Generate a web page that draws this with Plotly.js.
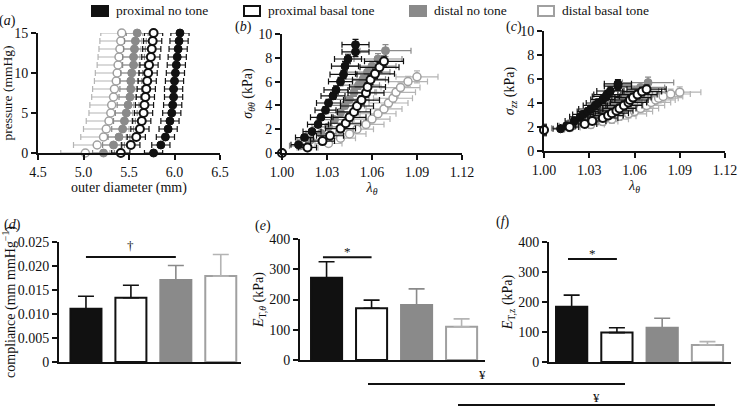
<!DOCTYPE html>
<html><head><meta charset="utf-8">
<script src="https://cdn.plot.ly/plotly-3.0.1.min.js"></script>
<style>body{margin:0;background:#fff}#chart{width:738px;height:407px}</style>
</head><body><div id="chart"></div>
<script>
// ---------- data ----------
const groups = ['proximal no tone', 'proximal basal tone', 'distal no tone', 'distal basal tone'];

// (a) pressure vs outer diameter
const pressure = [0,1,2,3,4,5,6,7,8,9,10,11,12,13,14,15];
const diamProxNo     = [5.77,5.85,5.90,5.93,5.95,5.97,5.98,5.99,5.99,6.00,6.01,6.02,6.03,6.04,6.05,6.06];
const diamProxBasal  = [5.41,5.52,5.58,5.62,5.64,5.66,5.67,5.68,5.69,5.70,5.71,5.72,5.74,5.75,5.76,5.77];
const diamDistNo     = [5.22,5.33,5.39,5.43,5.45,5.47,5.49,5.51,5.52,5.52,5.53,5.55,5.55,5.56,5.57,5.59];
const diamDistBasal  = [5.02,5.15,5.22,5.25,5.28,5.30,5.31,5.33,5.34,5.36,5.37,5.38,5.39,5.40,5.41,5.42];
const diamProxNoErr    = [0.10,0.10,0.10,0.10,0.10,0.10,0.10,0.10,0.10,0.10,0.10,0.10,0.10,0.10,0.10,0.10];
const diamProxBasalErr = [0.10,0.10,0.10,0.10,0.10,0.10,0.10,0.10,0.10,0.10,0.10,0.10,0.10,0.10,0.10,0.10];
const diamDistNoErr    = [0.12,0.12,0.12,0.12,0.12,0.12,0.12,0.12,0.12,0.12,0.12,0.12,0.12,0.12,0.12,0.12];
const diamDistBasalErr = [0.27,0.26,0.25,0.25,0.25,0.24,0.24,0.24,0.24,0.24,0.24,0.23,0.23,0.23,0.23,0.23];

// (b) circumferential stretch vs circumferential stress
const lamProxNo    = [1.000,1.011,1.015,1.020,1.024,1.026,1.029,1.031,1.034,1.036,1.039,1.041,1.042,1.044,1.049,1.049];
const lamProxBasal = [1.000,1.017,1.027,1.032,1.039,1.0425,1.045,1.048,1.050,1.053,1.056,1.057,1.059,1.062,1.065,1.068];
const lamDistNo    = [1.000,1.012,1.019,1.026,1.031,1.035,1.039,1.042,1.045,1.048,1.051,1.054,1.057,1.060,1.064,1.069];
const lamDistBasal = [1.000,1.017,1.031,1.039,1.045,1.050,1.056,1.060,1.064,1.068,1.071,1.074,1.076,1.079,1.084,1.090];
const lamProxNoErr    = [0.002,0.005,0.006,0.006,0.007,0.007,0.007,0.008,0.008,0.008,0.008,0.009,0.009,0.009,0.009,0.009];
const lamProxBasalErr = [0.002,0.006,0.008,0.009,0.010,0.010,0.011,0.011,0.011,0.012,0.012,0.012,0.012,0.013,0.013,0.013];
const lamDistNoErr    = [0.002,0.007,0.009,0.010,0.011,0.012,0.012,0.013,0.013,0.014,0.014,0.015,0.015,0.016,0.016,0.017];
const lamDistBasalErr = [0.002,0.007,0.009,0.010,0.011,0.011,0.012,0.012,0.012,0.012,0.013,0.013,0.013,0.013,0.013,0.014];
const sttProxNo    = [0,0.7,1.3,1.8,2.4,3.0,3.6,4.2,4.8,5.3,6.0,6.6,7.3,7.9,8.5,9.1];
const sttProxBasal = [0,0.47,1.0,1.45,2.05,2.5,3.0,3.45,3.95,4.45,5.05,5.55,6.15,6.65,7.2,7.7];
const sttDistNo    = [0,0.6,1.1,1.65,2.2,2.8,3.4,4.0,4.5,5.1,5.7,6.2,6.8,7.3,7.9,8.6];
const sttDistBasal = [0,0.45,0.8,1.25,1.6,2.0,2.4,2.85,3.3,3.7,4.2,4.6,5.1,5.5,6.0,6.4];
const sttProxNoErr    = [0.1,0.15,0.2,0.2,0.25,0.25,0.3,0.3,0.3,0.35,0.35,0.35,0.4,0.4,0.4,0.45];
const sttProxBasalErr = [0.1,0.15,0.2,0.2,0.25,0.25,0.3,0.3,0.3,0.35,0.35,0.35,0.4,0.4,0.4,0.45];
const sttDistNoErr    = [0.1,0.15,0.2,0.2,0.25,0.25,0.3,0.3,0.3,0.35,0.35,0.35,0.4,0.4,0.45,0.5];
const sttDistBasalErr = [0.1,0.15,0.2,0.2,0.25,0.25,0.3,0.3,0.3,0.35,0.35,0.35,0.4,0.4,0.45,0.5];

// (c) circumferential stretch vs axial stress
const szzProxNo    = [1.75,1.85,2.1,2.5,2.85,3.05,3.3,3.5,3.8,4.0,4.3,4.55,4.7,5.0,5.4,5.6];
const szzProxBasal = [1.75,2.0,2.25,2.5,2.75,2.95,3.15,3.35,3.55,3.8,4.05,4.25,4.45,4.7,4.95,5.15];
const szzDistNo    = [1.75,1.9,2.1,2.4,2.65,2.9,3.15,3.4,3.65,3.9,4.15,4.45,4.7,5.0,5.3,5.7];
const szzDistBasal = [1.75,1.95,2.2,2.45,2.65,2.9,3.1,3.3,3.55,3.8,4.05,4.25,4.4,4.55,4.75,4.9];
const szzProxNoErr    = [0.4,0.2,0.25,0.25,0.3,0.3,0.3,0.3,0.35,0.35,0.35,0.35,0.35,0.35,0.35,0.35];
const szzProxBasalErr = [0.4,0.2,0.25,0.25,0.3,0.3,0.3,0.3,0.35,0.35,0.35,0.35,0.35,0.35,0.35,0.35];
const szzDistNoErr    = [0.5,0.3,0.3,0.3,0.35,0.35,0.35,0.35,0.35,0.4,0.4,0.4,0.4,0.4,0.4,0.45];
const szzDistBasalErr = [0.5,0.3,0.3,0.3,0.35,0.35,0.35,0.35,0.35,0.4,0.4,0.4,0.4,0.4,0.4,0.45];

// (d)-(f) bar charts
const compliance    = [0.0111,0.0134,0.0171,0.0179];
const complianceErr = [0.0026,0.0026,0.0030,0.0045];
const etTheta       = [272,171,182,110];
const etThetaErr    = [53,27,53,26];
const etZ           = [184,98,114,57];
const etZErr        = [39,16,32,11];

// ---------- styling ----------
const W = 738, H = 407;
const px = x => x / W, py = y => 1 - y / H;
const FONT = '"Liberation Serif", "DejaVu Serif", serif';
const INK = '#111';
const sty = [
  {fill: INK, line: INK, err: INK, lw: 1},
  {fill: '#fff', line: INK, err: INK, lw: 2},
  {fill: '#8a8a8a', line: '#8a8a8a', err: '#8a8a8a', lw: 1},
  {fill: '#fff', line: '#a0a0a0', err: '#b4b4b4', lw: 1.5}
];

const traces = [];
const order = [3, 2, 0, 1];

function scat(i, x, y, xe, ye, xa, ya) {
  const s = sty[i];
  const t = {
    type: 'scatter', mode: 'markers', x: x, y: y, xaxis: xa, yaxis: ya, name: groups[i],
    cliponaxis: false, showlegend: false,
    marker: {size: 8, color: s.fill, line: {color: s.line, width: s.lw}},
    error_x: {type: 'data', array: xe, color: s.err, thickness: 1.2, width: 3}
  };
  if (ye) t.error_y = {type: 'data', array: ye, color: s.err, thickness: 1.2, width: 3};
  traces.push(t);
}

const diam = [diamProxNo, diamProxBasal, diamDistNo, diamDistBasal];
const diamErr = [diamProxNoErr, diamProxBasalErr, diamDistNoErr, diamDistBasalErr];
const lam = [lamProxNo, lamProxBasal, lamDistNo, lamDistBasal];
const lamErr = [lamProxNoErr, lamProxBasalErr, lamDistNoErr, lamDistBasalErr];
const stt = [sttProxNo, sttProxBasal, sttDistNo, sttDistBasal];
const sttErr = [sttProxNoErr, sttProxBasalErr, sttDistNoErr, sttDistBasalErr];
const szz = [szzProxNo, szzProxBasal, szzDistNo, szzDistBasal];
const szzErr = [szzProxNoErr, szzProxBasalErr, szzDistNoErr, szzDistBasalErr];

order.forEach(i => scat(i, diam[i], pressure, diamErr[i], null, 'x', 'y'));
order.forEach(i => scat(i, lam[i], stt[i], lamErr[i], sttErr[i], 'x2', 'y2'));
order.forEach(i => scat(i, lam[i], szz[i], lamErr[i], szzErr[i], 'x3', 'y3'));

function bars(vals, errs, xa, ya) {
  groups.forEach((g, i) => {
    const s = sty[i];
    traces.push({
      type: 'bar', x: [g], y: [vals[i]], xaxis: xa, yaxis: ya, name: g, showlegend: false,
      width: 0.69,
      marker: {color: s.fill, line: {color: s.line, width: 2}},
      error_y: {type: 'data', symmetric: false, array: [errs[i]], arrayminus: [0],
                color: s.err, thickness: 1.6, width: 8}
    });
  });
}
bars(compliance, complianceErr, 'x4', 'y4');
bars(etTheta, etThetaErr, 'x5', 'y5');
bars(etZ, etZErr, 'x6', 'y6');

const tickfont = {family: FONT, size: 14, color: INK};
const titlefont = {family: FONT, size: 14, color: INK};
function ax(domain, extra) {
  return Object.assign({
    domain: domain, showline: true, linewidth: 2, linecolor: INK, ticks: 'outside',
    ticklen: 5, tickwidth: 2, tickcolor: INK, showgrid: false, zeroline: false,
    tickfont: tickfont, fixedrange: true
  }, extra);
}
function cat(domain, range, anchor) {
  return ax(domain, {type: 'category', categoryarray: groups, categoryorder: 'array',
    range: range, showticklabels: false, ticks: '', anchor: anchor});
}

const layout = {
  width: W, height: H, margin: {l: 0, r: 0, t: 0, b: 0},
  paper_bgcolor: '#fff', plot_bgcolor: 'rgba(0,0,0,0)',
  font: {family: FONT, color: INK}, showlegend: false, barmode: 'overlay',
  xaxis: ax([px(38), px(220)], {range: [4.5, 6.5], tickvals: [4.5, 5.0, 5.5, 6.0, 6.5], tickformat: '.1f',
    title: {text: 'outer diameter (mm)', font: titlefont, standoff: 2}, anchor: 'y'}),
  yaxis: ax([py(153), py(33)], {range: [0, 15], tickvals: [0, 5, 10, 15],
    title: {text: 'pressure (mmHg)', font: {family: FONT, size: 13.5, color: INK}, standoff: 2}, anchor: 'x'}),
  xaxis2: ax([px(282), px(462)], {range: [1.0, 1.12], tickvals: [1.00, 1.03, 1.06, 1.09, 1.12], tickformat: '.2f',
    title: {text: '<i>λ</i><sub><i>θ</i></sub>', font: titlefont, standoff: 2}, anchor: 'y2'}),
  yaxis2: ax([py(153), py(34)], {range: [0, 10], tickvals: [0, 2, 4, 6, 8, 10],
    title: {text: '<i>σ</i><sub><i>θθ</i></sub> (kPa)', font: titlefont, standoff: 2}, anchor: 'x2'}),
  xaxis3: ax([px(544), px(725)], {range: [1.0, 1.12], tickvals: [1.00, 1.03, 1.06, 1.09, 1.12], tickformat: '.2f',
    title: {text: '<i>λ</i><sub><i>θ</i></sub>', font: titlefont, standoff: 2}, anchor: 'y3'}),
  yaxis3: ax([py(151), py(31)], {range: [0, 10], tickvals: [0, 2, 4, 6, 8, 10],
    title: {text: '<i>σ</i><sub><i>zz</i></sub> (kPa)', font: titlefont, standoff: 2}, anchor: 'x3'}),
  xaxis4: cat([px(59), px(241)], [-0.6, 3.45], 'y4'),
  yaxis4: ax([py(362), py(242)], {range: [0, 0.025], tickvals: [0, 0.005, 0.010, 0.015, 0.020, 0.025],
    ticktext: ['0', '0.005', '0.010', '0.015', '0.020', '0.025'],
    title: {text: 'compliance (mm mmHg<sup>−1</sup>)', font: titlefont, standoff: 2}, anchor: 'x4'}),
  xaxis5: cat([px(300), px(485)], [-0.59, 3.52], 'y5'),
  yaxis5: ax([py(360), py(239)], {range: [0, 400], tickvals: [0, 100, 200, 300, 400],
    title: {text: '<i>E</i><sub>T,<i>θ</i></sub> (kPa)', font: titlefont, standoff: 2}, anchor: 'x5'}),
  xaxis6: cat([px(549), px(731)], [-0.5, 3.52], 'y6'),
  yaxis6: ax([py(362), py(242)], {range: [0, 400], tickvals: [0, 100, 200, 300, 400],
    title: {text: '<i>E</i><sub>T,z</sub> (kPa)', font: titlefont, standoff: 2}, anchor: 'x6'}),
  shapes: [], annotations: []
};

const C = {showarrow: false, xanchor: 'center', yanchor: 'middle'};

// significance markers
const sig = [
  {xa: 'x4', ya: 'y4', x0: 0, x1: 2, y: 0.0219, ty: 0.0243, t: '†'},
  {xa: 'x5', ya: 'y5', x0: -0.08, x1: 1.0, y: 340, ty: 360, t: '*'},
  {xa: 'x6', ya: 'y6', x0: -0.08, x1: 1.0, y: 343, ty: 363, t: '*'}
];
sig.forEach(s => {
  layout.shapes.push({type: 'line', xref: s.xa, yref: s.ya, x0: s.x0, x1: s.x1, y0: s.y, y1: s.y,
    line: {color: INK, width: 2}});
  layout.annotations.push(Object.assign({xref: s.xa, yref: s.ya, x: (s.x0 + s.x1) / 2, y: s.ty, text: s.t,
    font: {family: FONT, size: 13, color: INK}}, C));
});
// cross-panel ¥ lines
[[368, 625, 384, 483, 374], [458, 715, 405, 596, 397]].forEach(b => {
  layout.shapes.push({type: 'line', xref: 'paper', yref: 'paper', x0: px(b[0]), x1: px(b[1]),
    y0: py(b[2]), y1: py(b[2]), line: {color: INK, width: 2}});
  layout.annotations.push(Object.assign({xref: 'paper', yref: 'paper', x: px(b[3]), y: py(b[4]), text: '¥',
    font: {family: FONT, size: 13, color: INK}}, C));
});

// panel letters
[['a', 7, 21], ['b', 243, 27], ['c', 514, 27], ['d', 13, 225], ['e', 263, 226], ['f', 503, 222]].forEach(p => {
  layout.annotations.push(Object.assign({xref: 'paper', yref: 'paper', x: px(p[1]), y: py(p[2]),
    text: '(<i>' + p[0] + '</i>)', font: {family: FONT, size: 14, color: INK}}, C));
});

// legend
const legX = [[91, 109, 114], [243, 261, 266], [409, 427, 432], [537, 555, 560]];
groups.forEach((g, i) => {
  const s = sty[i];
  const open = s.fill === '#fff';
  const inset = open ? 1 : 0;
  layout.shapes.push({type: 'rect', xref: 'paper', yref: 'paper',
    x0: px(legX[i][0] + inset), x1: px(legX[i][1] - inset), y0: py(17 - inset), y1: py(5 + inset),
    fillcolor: s.fill, line: {color: s.line, width: open ? 2 : 0}});
  layout.annotations.push({xref: 'paper', yref: 'paper', x: px(legX[i][2]), y: py(11), text: g,
    xanchor: 'left', yanchor: 'middle', showarrow: false, font: {family: FONT, size: 13.5, color: INK}});
});

Plotly.newPlot('chart', traces, layout, {staticPlot: true, displayModeBar: false});
</script>
</body></html>
